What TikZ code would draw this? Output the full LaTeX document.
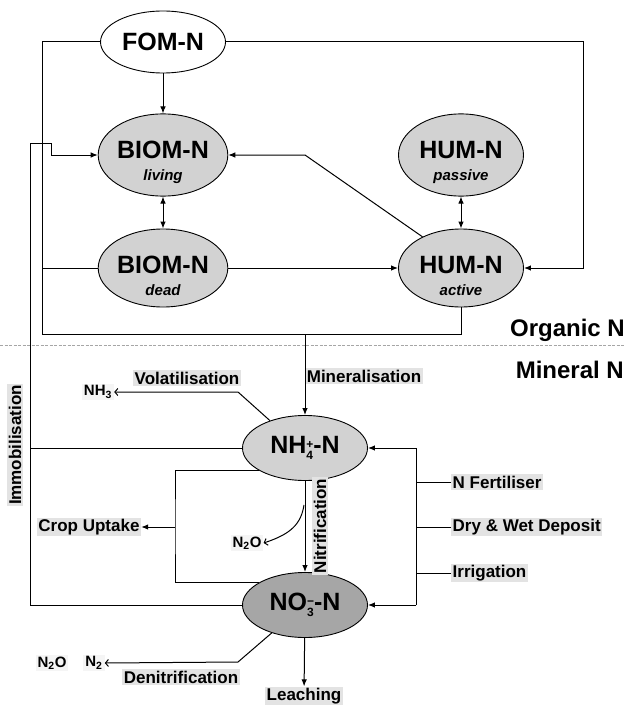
\documentclass[tikz,border=0pt]{standalone}
\usepackage{fontspec}
\setmainfont{Liberation Sans}
\usetikzlibrary{arrows.meta,shapes.geometric,calc}
\newcommand{\subfnt}{\bfseries\itshape\fontsize{15}{15}\selectfont}
\newcommand{\ionstack}[2]{\raisebox{-5.5pt}{\fontsize{12}{13}\selectfont\shortstack[l]{#1\\#2}}}
\begin{document}
\begin{tikzpicture}[x=1pt,y=-1pt,
  ln/.style={line width=1pt},
  pool/.style={ellipse,draw,line width=0.9pt,minimum width=125pt,minimum height=62pt,inner sep=0pt,align=center,font=\bfseries\fontsize{25}{25}\selectfont},
  light/.style={fill=gray!35},
  dark/.style={fill=gray!70},
  arr/.style={ln,-{Latex[length=7pt,width=5.5pt]}},
  dbl/.style={ln,{Latex[length=7pt,width=5.5pt]}-{Latex[length=7pt,width=5.5pt]}},
  oarr/.style={ln,-{Straight Barb[length=3pt,width=7pt]}},
  lab/.style={fill=gray!22,inner sep=1.5pt,font=\bfseries\fontsize{17}{17}\selectfont},
  gas/.style={fill=gray!8,inner sep=2pt,font=\bfseries\fontsize{15}{15}\selectfont},
  big/.style={inner sep=0pt,font=\bfseries\fontsize{24}{24}\selectfont}
]
\useasboundingbox (0,0) rectangle (624,706);

% pools
\node[pool,fill=white] (fom) at (163,42) {FOM-N};
\node[pool,light] (biol) at (163,155) {\rule{0pt}{33pt}BIOM-N\\[-3pt]{\subfnt living}};
\node[pool,light] (biod) at (163,268) {\rule{0pt}{33pt}BIOM-N\\[-3pt]{\subfnt dead}};
\node[pool,light] (hump) at (461,155) {\rule{0pt}{33pt}HUM-N\\[-3pt]{\subfnt passive}};
\node[pool,light] (huma) at (461,268) {\rule{0pt}{33pt}HUM-N\\[-3pt]{\subfnt active}};
\node[pool,light,minimum height=65pt] (nh4) at (305,448) {NH\ionstack{+}{4}-N};
\node[pool,dark,minimum height=65pt] (no3) at (305,605) {NO\ionstack{−}{3}-N};

% coordinates
\coordinate (cBL) at (42,334);
\coordinate (cR) at (583,268);
\coordinate (cD) at (305,155);
\coordinate (cM) at (305,334);
\coordinate (cI1) at (30,143);
\coordinate (cI2) at (51,155);
\coordinate (cV) at (238,392);
\coordinate (cN) at (304,505);
\coordinate (cC) at (175,527);
\coordinate (cB) at (416,605);
\coordinate (cDn) at (238,662);

% labels
\node[big,anchor=east] (orgN) at (625,330) {Organic N};
\node[big,anchor=east] (minN) at (624,370) {Mineral N};
\node[lab] (mine) at (364,376) {Mineralisation};
\node[lab] (vola) at (187,378) {Volatilisation};
\node[gas] (nh3) at (98,392) {NH\textsubscript{3}};
\node[lab,rotate=90] (immo) at (15,445) {Immobilisation};
\node[lab,rotate=90] (nitr) at (320,526) {Nitrification};
\node[gas] (n2o) at (247,543) {N\textsubscript{2}O};
\node[lab] (crop) at (89,527) {Crop Uptake};
\node[lab,anchor=west] (fert) at (451,482) {N Fertiliser};
\node[lab,anchor=west] (depo) at (451,527) {Dry \& Wet Deposit};
\node[lab,anchor=west] (irri) at (451,573) {Irrigation};
\node[gas] (n2oB) at (52,663) {N\textsubscript{2}O};
\node[gas] (n2) at (94,663) {N\textsubscript{2}};
\node[lab] (deni) at (181,677) {Denitrification};
\node[lab] (leach) at (304,696) {Leaching};

% separator
\draw[gray!70,line width=1pt,dash pattern=on 3pt off 1.5pt] (0,345) -- (624,345);

% organic connectors
\draw[arr] (fom) -- (biol);
\draw[ln] (fom.west) -| (cBL) -| (huma.south);
\draw[ln] (biod.west) -- (biod.west -| cBL);
\draw[arr] (biod) -- (huma);
\draw[arr] (fom.east) -| (cR) -- (huma.east);
\draw[arr] (huma.141) -- (cD) -- (biol.east);
\draw[dbl] (biol) -- (biod);
\draw[dbl] (hump) -- (huma);

% mineral connectors
\draw[arr] (cM) -- (nh4);
\draw[arr] (no3.west) -| (cI1) -| (cI2) -- (biol.west);
\draw[ln] (nh4.west) -- (nh4.west -| cI1);
\draw[oarr] (nh4.142) -- (cV) -- (nh3.east);
\draw[arr] (nh4) -- (no3);
\draw[oarr] (cN) .. controls (301,524) and (291,534) .. (n2o.east);
\draw[ln] (nh4.206) -| (cC) |- (no3.154);
\draw[arr] (cC) -- (crop.east);
\draw[arr] (cB) |- (nh4.east);
\draw[arr] (cB) -- (no3.east);
\draw[ln] (fert.west) -- (fert.west -| cB);
\draw[ln] (depo.west) -- (depo.west -| cB);
\draw[ln] (irri.west) -- (irri.west -| cB);
\draw[oarr] (no3.220) -- (cDn) -- (n2.east);
\draw[arr] (no3) -- (leach);
\end{tikzpicture}
\end{document}
